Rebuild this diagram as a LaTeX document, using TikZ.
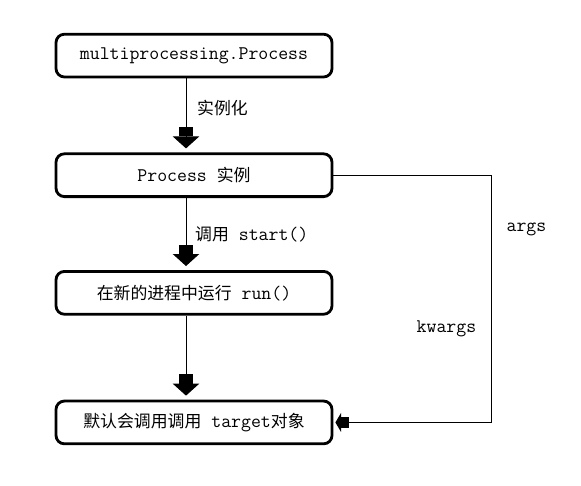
\documentclass[tikz,border=0pt]{standalone}
\usepackage{fontspec}
\newfontfamily\cjk{Noto Sans CJK SC}
\newcommand{\zhtext}[1]{{\fontsize{12}{14}\selectfont\cjk #1}}
\usetikzlibrary{positioning,arrows.meta}

\begin{document}
\begin{tikzpicture}[
    node distance=1.8cm,
    stepbox/.style={rectangle, draw, line width=2pt, rounded corners=6pt, minimum width=6.9cm, minimum height=1.07cm, text centered, font=\ttfamily\fontsize{13.7}{15}\selectfont},
    tag/.style={font=\ttfamily\fontsize{13.7}{15}\selectfont},
    blockarrow/.style={line width=0.7pt, shorten >=0.1cm, -{Rectangle[width=0.36cm,length=0.23cm]Triangle[width=0.66cm,length=0.3cm]}},
    sidearrow/.style={line width=0.7pt, shorten >=0.05cm, -{Rectangle[width=0.27cm,length=0.2cm]Triangle[width=0.47cm,length=0.14cm]}}
]
    \useasboundingbox (0,0) rectangle (14.525,-12.125);

    % Boxes
    \node[stepbox] (proc) at (4.85,-1.39) {multiprocessing.Process};
    \node[stepbox, below=1.85cm of proc] (inst) {Process \zhtext{实例}};
    \node[stepbox, below=1.8cm of inst] (run) {\zhtext{在新的进程中运行} run()};
    \node[stepbox, below=2.1cm of run] (target) {\zhtext{默认会调用调用} target\zhtext{对象}};

    % Arrows
    \draw[blockarrow] ([xshift=-0.2cm]proc.south) -- node[tag, right=0.15cm, pos=0.4] {\zhtext{实例化}} ([xshift=-0.2cm]inst.north);
    \draw[blockarrow] ([xshift=-0.2cm]inst.south) -- node[tag, right=0.1cm] {\zhtext{调用} start()} ([xshift=-0.2cm]run.north);
    \draw[blockarrow] ([xshift=-0.2cm]run.south) -- ([xshift=-0.2cm]target.north);

    % args / kwargs
    \coordinate[right=3.95cm of inst.east] (bendtop);
    \draw[sidearrow] (inst.east) -- (bendtop) |- node[tag, pos=0.11, right=0.25cm] {args} node[tag, pos=0.31, left=0.25cm] {kwargs} (target.east);
\end{tikzpicture}
\end{document}
